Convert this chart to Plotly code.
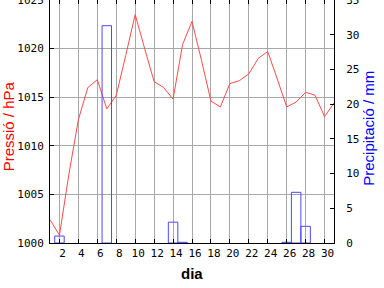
import plotly.graph_objects as go

days = list(range(1, 32))
pressure = [1002.4, 1000.8, 1007.1, 1012.7, 1016.0, 1016.8, 1013.8, 1015.2, 1019.3, 1023.5,
            1020.0, 1016.6, 1016.0, 1014.8, 1020.4, 1022.8, 1018.8, 1014.6, 1014.0, 1016.4,
            1016.7, 1017.4, 1019.0, 1019.7, 1016.9, 1014.0, 1014.5, 1015.5, 1015.2, 1013.0,
            1014.4]
rain_days = [2, 7, 14, 15, 26, 27, 28]
rain_mm = [1.0, 31.3, 3.0, 0.1, 0.1, 7.3, 2.4]

x_ticks = list(range(2, 31, 2))

RED = "#ff4a4a"
BLUE = "#4a4aff"
GRID = "#a8a8a8"
MONO = "DejaVu Sans Mono"
SANS = "Liberation Sans"

fig = go.Figure()
fig.add_trace(go.Bar(x=rain_days, y=rain_mm, width=1, yaxis="y2",
                     marker=dict(color="rgba(0,0,0,0)", line=dict(color=BLUE, width=1)),
                     showlegend=False))
fig.add_trace(go.Scatter(x=days, y=pressure, mode="lines",
                         line=dict(color=RED, width=1), showlegend=False))

fig.update_layout(
    width=384, height=288,
    margin=dict(l=50, r=50, t=0, b=45),
    paper_bgcolor="white", plot_bgcolor="white",
    xaxis=dict(range=[1, 31], tickvals=x_ticks, ticktext=[str(v) for v in x_ticks],
               showgrid=True, gridcolor=GRID, gridwidth=1,
               ticks="inside", ticklen=4, tickcolor="black",
               showline=True, linecolor="black", linewidth=1, mirror="ticks",
               tickfont=dict(family=MONO, size=11, color="black"),
               ticklabelshift=3, zeroline=False, automargin=False),
    yaxis=dict(range=[1000, 1025], dtick=5, tick0=1000,
               showgrid=True, gridcolor=GRID, gridwidth=1,
               ticks="inside", ticklen=4, tickcolor="black",
               showline=True, linecolor="black", linewidth=1,
               ticklabeloverflow="allow", ticklabelstandoff=3, automargin=False,
               tickfont=dict(family=MONO, size=11, color="black"), zeroline=False),
    yaxis2=dict(range=[0, 35], dtick=5, tick0=0, overlaying="y", side="right",
                showgrid=False, ticks="inside", ticklen=4, tickcolor="black",
                showline=True, linecolor="black", linewidth=1,
                ticklabeloverflow="allow", ticklabelstandoff=9, automargin=False,
                tickfont=dict(family=MONO, size=11, color="black"), zeroline=False),
    annotations=[
        dict(text="Pressió / hPa", xref="paper", yref="paper", x=-42/284, y=0.48,
             xanchor="center", yanchor="middle", textangle=-90, showarrow=False,
             font=dict(family=SANS, size=15, color="red")),
        dict(text="Precipitació / mm", xref="paper", yref="paper", x=(369-50)/284, y=0.47,
             xanchor="center", yanchor="middle", textangle=-90, showarrow=False,
             font=dict(family=SANS, size=15, color="blue")),
        dict(text="<b>dia</b>", xref="paper", yref="paper", x=(191.7-50)/284, y=-(273-243)/243,
             xanchor="center", yanchor="middle", showarrow=False,
             font=dict(family=SANS, size=15, color="black")),
    ],
)

fig.write_html("out.html")
